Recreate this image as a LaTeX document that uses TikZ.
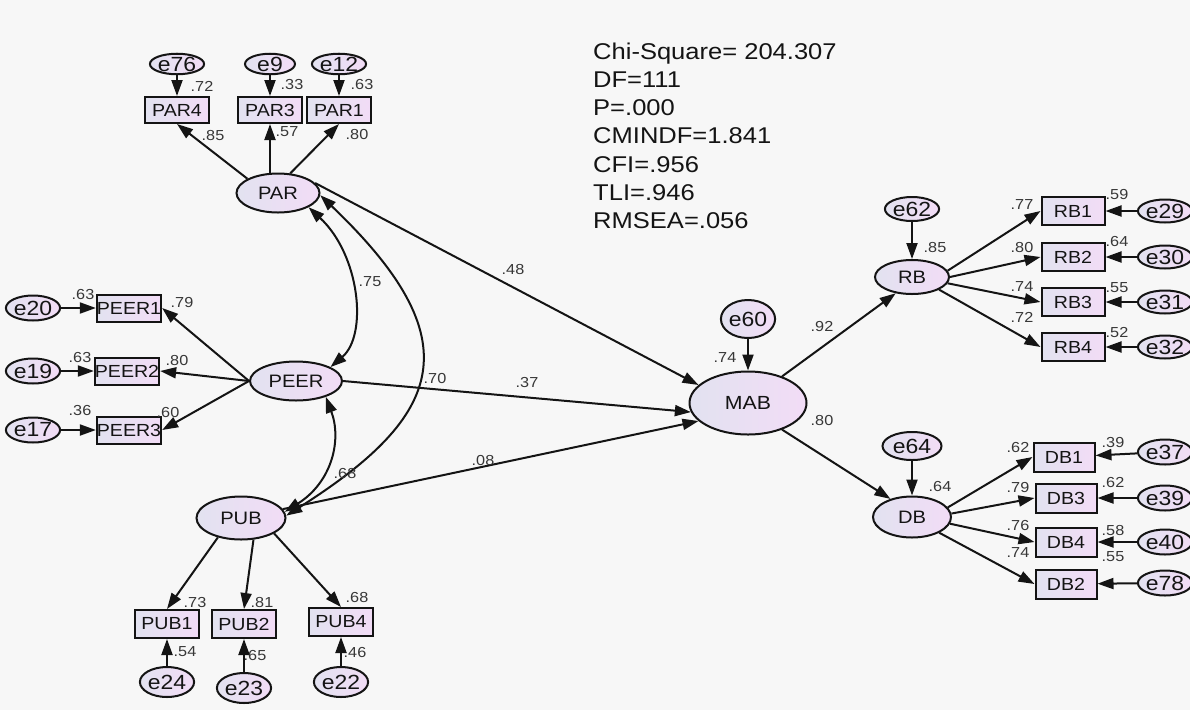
\documentclass[tikz,border=0pt]{standalone}
\usepackage{fontspec}
\setmainfont{Liberation Sans}[FakeStretch=1.12]
\usetikzlibrary{shapes.geometric,arrows.meta}
\definecolor{bg}{RGB}{247,247,247}
\definecolor{fl}{RGB}{226,226,240}
\definecolor{fr}{RGB}{242,220,246}
\definecolor{ink}{RGB}{20,20,20}
\definecolor{num}{RGB}{55,55,55}
\begin{document}
\begin{tikzpicture}[x=1pt,y=-1pt,
 lat/.style={ellipse,draw=ink,line width=2pt,left color=fl,right color=fr,inner sep=0pt,font=\fontsize{18}{18}\selectfont,text=ink},
 obs/.style={rectangle,draw=ink,line width=2pt,left color=fl,right color=fr,inner sep=0pt,font=\fontsize{17.5}{17.5}\selectfont,text=ink},
 err/.style={ellipse,draw=ink,line width=2pt,left color=fl,right color=fr,inner sep=0pt,font=\fontsize{20.5}{20.5}\selectfont,text=ink},
 lbl/.style={inner sep=0pt,font=\fontsize{14.5}{14.5}\selectfont,text=num},
 st/.style={inner sep=0pt,anchor=base west,font=\fontsize{22.8}{22.8}\selectfont,text=ink},
 arr/.style={-{Triangle[length=16pt,width=11pt]},line width=2pt,draw=ink},
 darr/.style={{Triangle[length=16pt,width=11pt]}-{Triangle[length=16pt,width=11pt]},line width=2pt,draw=ink},
 sz/.style 2 args={minimum width=#1pt,minimum height=#2pt}
]
\fill[bg] (0,0) rectangle (1190,710);
\useasboundingbox (0,0) rectangle (1190,710);

% latent variables
\node[lat,sz={83}{39}] (PAR) at (278,193) {PAR};
\node[lat,sz={92}{39}] (PEER) at (296,381) {PEER};
\node[lat,sz={89}{43}] (PUB) at (241,518) {PUB};
\node[lat,sz={117}{63},font=\fontsize{19}{19}\selectfont] (MAB) at (748,403) {MAB};
\node[lat,sz={74}{34}] (RB) at (912,277) {RB};
\node[lat,sz={78}{41}] (DB) at (912,517) {DB};

% observed variables
\node[obs,sz={64}{26}] (PAR4) at (177,110) {PAR4};
\node[obs,sz={64}{26}] (PAR3) at (270,110) {PAR3};
\node[obs,sz={64}{26}] (PAR1) at (339,110) {PAR1};
\node[obs,sz={64}{27}] (PEER1) at (129,308) {PEER1};
\node[obs,sz={64}{27}] (PEER2) at (127,371) {PEER2};
\node[obs,sz={64}{27}] (PEER3) at (129,430) {PEER3};
\node[obs,sz={64}{28}] (PUB1) at (167,624) {PUB1};
\node[obs,sz={64}{28}] (PUB2) at (244,624) {PUB2};
\node[obs,sz={64}{28}] (PUB4) at (341,622) {PUB4};
\node[obs,sz={63}{28}] (RB1) at (1073,211) {RB1};
\node[obs,sz={63}{28}] (RB2) at (1073,257) {RB2};
\node[obs,sz={63}{28}] (RB3) at (1073,302) {RB3};
\node[obs,sz={63}{28}] (RB4) at (1073,347) {RB4};
\node[obs,sz={61}{29}] (DB1) at (1064,457) {DB1};
\node[obs,sz={61}{29}] (DB3) at (1066,498) {DB3};
\node[obs,sz={61}{29}] (DB4) at (1066,542) {DB4};
\node[obs,sz={61}{29}] (DB2) at (1066,584) {DB2};

% errors
\node[err,sz={50}{20}] (e76) at (177,64) {e76};
\node[err,sz={50}{20}] (e9) at (270,64) {e9};
\node[err,sz={50}{20}] (e12) at (339,64) {e12};
\node[err,sz={44}{25}] (e20) at (33,308) {e20};
\node[err,sz={44}{25}] (e19) at (33,371) {e19};
\node[err,sz={44}{25}] (e17) at (33,430) {e17};
\node[err,sz={52}{30}] (e24) at (167,682) {e24};
\node[err,sz={52}{30}] (e23) at (244,688) {e23};
\node[err,sz={52}{30}] (e22) at (341,682) {e22};
\node[err,sz={40}{38}] (e60) at (748,319) {e60};
\node[err,sz={44}{24}] (e62) at (912,209) {e62};
\node[err,sz={59}{28}] (e64) at (912,446) {e64};
\node[err,sz={46}{23}] (e29) at (1165,211) {e29};
\node[err,sz={46}{23}] (e30) at (1165,257) {e30};
\node[err,sz={46}{23}] (e31) at (1165,302) {e31};
\node[err,sz={46}{23}] (e32) at (1165,347) {e32};
\node[err,sz={46}{25}] (e37) at (1165,452) {e37};
\node[err,sz={46}{25}] (e39) at (1165,498) {e39};
\node[err,sz={46}{25}] (e40) at (1165,542) {e40};
\node[err,sz={46}{25}] (e78) at (1165,583) {e78};

% loadings
\draw[arr] (PAR.155) -- (PAR4.south);
\draw[arr] (PAR.north -| PAR3) -- (PAR3.south);
\draw[arr] (PAR.58) -- (PAR1.south);
\draw[arr] (PEER.west) -- (PEER1.east);
\draw[arr] (PEER.west) -- (PEER2.east);
\draw[arr] (PEER.west) -- (PEER3.east);
\draw[arr] (PUB.220) -- (PUB1.north);
\draw[arr] (PUB.-60) -- (PUB2.north);
\draw[arr] (PUB.-25) -- (PUB4.north);
\draw[arr] (RB.10) -- (RB1.west);
\draw[arr] (RB.0) -- (RB2.west);
\draw[arr] (RB.-10) -- (RB3.west);
\draw[arr] (RB.-25) -- (RB4.west);
\draw[arr] (DB.15) -- (DB1.west);
\draw[arr] (DB.5) -- (DB3.west);
\draw[arr] (DB.-10) -- (DB4.west);
\draw[arr] (DB.-30) -- (DB2.west);

% error arrows
\foreach \e/\v in {e76/PAR4,e9/PAR3,e12/PAR1,e20/PEER1,e19/PEER2,e17/PEER3,e24/PUB1,e23/PUB2,e22/PUB4,e60/MAB,e62/RB,e64/DB,e29/RB1,e30/RB2,e31/RB3,e32/RB4,e37/DB1,e39/DB3,e40/DB4,e78/DB2}
  \draw[arr] (\e) -- (\v);

% structural paths
\draw[arr] (PAR.15) -- (MAB.160);
\draw[arr] (PEER.east) -- (MAB.189);
\draw[arr] (PUB.12) -- (MAB.200);
\draw[arr] (MAB.38) -- (RB.225);
\draw[arr] (MAB.-38) -- (DB.140);

% covariances
\draw[darr] (PAR.-25) .. controls (360,255) and (368,335) .. (PEER.22);
\draw[darr] (PEER.-28) .. controls (342,440) and (332,482) .. (PUB.8);
\draw[darr] (PAR.-3) .. controls (472,340) and (445,415) .. (PUB.3);

% labels
\foreach \t/\x/\y [count=\i] in {
 .72/202/86, .33/292/85, .63/362/85, .85/213/136, .57/287/132, .80/357/135,
 .63/83/295, .79/182/302, .63/80/357, .80/177/360, .36/80/410, .60/168/412,
 .73/195/602, .81/262/602, .68/357/597, .54/185/652, .65/255/655, .46/355/652,
 .75/370/282, .70/435/378, .68/345/473,
 .48/513/270, .37/527/382, .08/483/460, .74/725/358, .92/822/327, .80/822/420,
 .85/935/248, .77/1022/205, .59/1117/195, .80/1022/248, .64/1117/242,
 .74/1022/287, .55/1117/288, .72/1022/317, .52/1117/333,
 .64/940/486, .62/1018/447, .39/1113/442, .79/1018/487, .62/1113/482,
 .76/1018/525, .58/1113/530, .74/1018/553, .55/1113/557}
  \node[lbl] (l\i) at (\x,\y) {\t};

% fit statistics
\foreach \t [count=\i] in {Chi-Square= 204.307, DF=111, P=.000, CMINDF=1.841, CFI=.956, TLI=.946, RMSEA=.056}
  \node[st] (s\i) at (593,{59+28.3*(\i-1)}) {\t};
\end{tikzpicture}
\end{document}
